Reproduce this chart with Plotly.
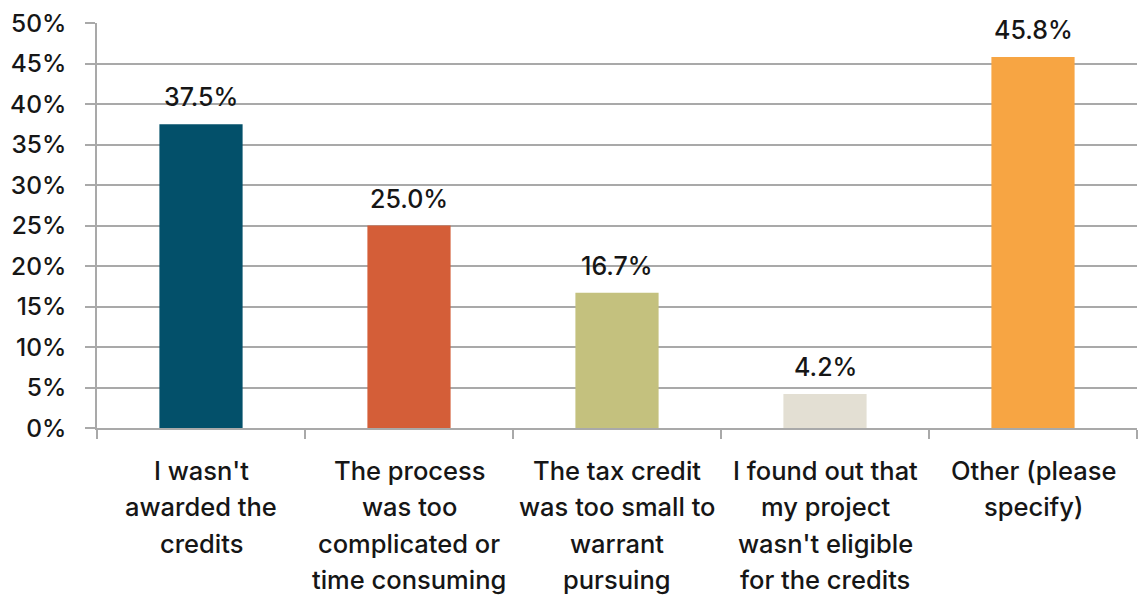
import plotly.graph_objects as go

# Survey responses: reasons for not claiming the credits
categories = [
    "I wasn't awarded the credits",
    "The process was too complicated or time consuming",
    "The tax credit was too small to warrant pursuing",
    "I found out that my project wasn't eligible for the credits",
    "Other (please specify)",
]
category_lines = [
    ["I wasn't", "awarded the", "credits"],
    ["The process", "was too", "complicated or", "time consuming"],
    ["The tax credit", "was too small to", "warrant", "pursuing"],
    ["I found out that", "my project", "wasn't eligible", "for the credits"],
    ["Other (please", "specify)"],
]
shares = [37.5, 25.0, 16.7, 4.2, 45.8]
bar_colors = ["#03506A", "#D45E38", "#C4C17E", "#E3DFD3", "#F7A543"]
y_ticks = [0, 5, 10, 15, 20, 25, 30, 35, 40, 45, 50]

FONT = "Inter, 'Open Sans', sans-serif"
GRID = "#A9A9A9"
INK = "#161616"

fig = go.Figure(
    go.Bar(
        x=categories,
        y=shares,
        marker=dict(color=bar_colors, line=dict(width=0)),
        width=0.4,
        hoverinfo="skip",
    )
)

annotations = []
# value labels above each bar
for cat, v in zip(categories, shares):
    annotations.append(dict(
        x=cat, y=v, xref="x", yref="y",
        text=f"{v:.1f}%", showarrow=False,
        yanchor="middle", yshift=27,
        font=dict(family=FONT, size=25, color=INK, weight=500),
    ))
# multi-line category labels under the axis
LINE_STEP = 36.5
for cat, lines in zip(categories, category_lines):
    for i, line in enumerate(lines):
        annotations.append(dict(
            x=cat, y=0, xref="x", yref="paper",
            text=line, showarrow=False,
            yanchor="middle", yshift=-(42 + i * LINE_STEP),
            font=dict(family=FONT, size=25.5, color=INK, weight=500),
        ))

fig.update_layout(
    width=1143, height=603,
    margin=dict(l=97, r=6, t=23, b=175),
    paper_bgcolor="white", plot_bgcolor="white",
    showlegend=False,
    annotations=annotations,
    font=dict(family=FONT, color=INK),
)
fig.update_xaxes(
    type="category",
    showticklabels=False,
    showgrid=False,
    showline=True, linecolor=GRID, linewidth=1.5,
    ticks="outside", tickson="boundaries", ticklen=9,
    tickcolor=GRID, tickwidth=1.5,
)
fig.update_yaxes(
    range=[0, 50],
    tickvals=y_ticks,
    ticktext=[f"{t}%" for t in y_ticks],
    showgrid=True, gridcolor=GRID, gridwidth=1.5,
    showline=True, linecolor=GRID, linewidth=1.5,
    ticks="outside", ticklen=10, tickcolor=GRID, tickwidth=1.5,
    ticklabelstandoff=14,
    tickfont=dict(family=FONT, size=24.5, color=INK, weight=500),
    zeroline=False,
)

fig.write_html("out.html")
